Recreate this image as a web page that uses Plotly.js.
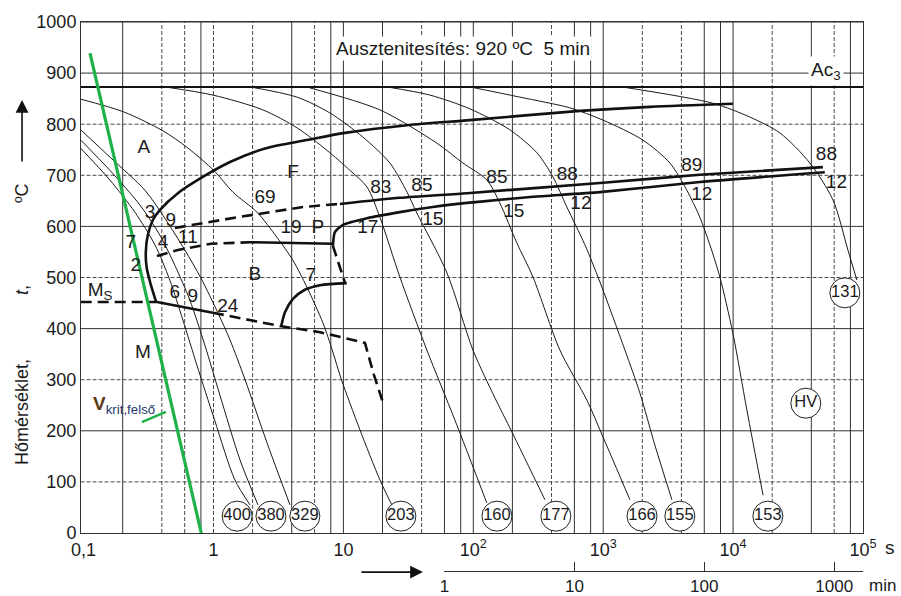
<!DOCTYPE html>
<html><head><meta charset="utf-8">
<script src="https://cdn.plot.ly/plotly-3.0.1.min.js"></script>
<style>html,body{margin:0;padding:0;background:#fff;}#chart{width:901px;height:596px;}</style>
</head><body><div id="chart"></div>
<script>
const FONT = "'Liberation Sans',Arial,sans-serif";

// ---------- grid / reference levels ----------
const gridSolidX = [0.2, 0.8, 4, 8, 10, 20, 60, 80, 100, 200, 600, 800, 1000, 6000, 8000, 10000, 40000, 80000];
const gridDashX  = [0.4, 0.6, 1, 2, 6, 40, 400, 2000, 4000, 20000, 60000];
const gridSolidY = [200, 400, 600, 900, 1000];
const gridDashY  = [100, 300, 500, 700, 800];
const ac3Temp = 873;

// ---------- axis ticks ----------
const xTickVals = [0.1, 1, 10, 100, 1000, 10000, 100000];
const xTickText = ['0,1', '1', '10', '10<sup>2</sup>', '10<sup>3</sup>', '10<sup>4</sup>', '10<sup>5</sup>'];
const yTickVals = [0, 100, 200, 300, 400, 500, 600, 700, 800, 900, 1000];
const minTickVals = [1, 10, 100, 1000];
const minTickText = ['1', '10', '100', '1000'];

// ---------- cooling curves (time s, temperature °C) ----------
const c400_t = [0.095, 0.159, 0.248, 0.354, 0.461, 0.581, 0.744, 1.02, 1.46, 1.91];
const c400_T = [753, 691, 628, 564, 495, 417, 329, 221, 104, 55];
const c380_t = [0.095, 0.159, 0.271, 0.386, 0.504, 0.657, 0.857, 1.12, 1.60, 2.20];
const c380_T = [769, 710, 642, 583, 524, 456, 368, 270, 143, 55];
const c329_t = [0.095, 0.162, 0.296, 0.422, 0.601, 0.80, 1.08, 1.34, 1.75, 2.62, 3.88];
const c329_T = [789, 734, 671, 616, 554, 499, 431, 378, 300, 172, 55];
const c203_t = [0.095, 0.204, 0.408, 0.623, 1.02, 1.41, 2.16, 3.07, 4.08, 5.24, 6.96, 8.30, 9.57, 13.4, 19.1, 23.6];
const c203_T = [849, 824, 787, 755, 708, 667, 628, 579, 534, 481, 411, 354, 303, 202, 104, 55];
const c160_t = [0.422, 0.99, 2.40, 4.39, 7.46, 11.2, 15.2, 19.1, 27.2, 43.9, 72.2, 127];
const c160_T = [873, 857, 828, 793, 749, 710, 677, 618, 501, 358, 221, 59];
const c177_t = [1.91, 4.39, 7.87, 14.1, 22.8, 30.9, 36.8, 62.7, 99.4, 147, 198, 356];
const c177_T = [873, 853, 822, 775, 724, 667, 626, 509, 358, 264, 198, 65];
const c166_t = [5.52, 19.1, 52.4, 83.2, 127, 160, 216, 288, 464, 749, 996, 1607];
const c166_T = [871, 828, 763, 724, 691, 646, 568, 501, 358, 260, 188, 65];
const c155_t = [21.6, 46.3, 94.2, 191, 309, 410, 525, 723, 944, 1470, 1916, 2500, 3380];
const c155_T = [873, 857, 830, 789, 744, 697, 638, 564, 491, 358, 274, 172, 65];
const c153_t = [94.2, 228, 554, 996, 2020, 3260, 4400, 5546, 6622, 7907, 9960, 12760, 17000];
const c153_T = [873, 853, 832, 808, 769, 724, 671, 618, 564, 501, 391, 241, 74];
const c131_t = [1390, 6986, 13460, 22910, 38990, 58650, 76500, 89690];
const c131_T = [873, 841, 814, 783, 724, 652, 554, 495];

// ---------- transformation lines ----------
const fStart_t = [0.362, 0.33, 0.306, 0.301, 0.312, 0.342, 0.386, 0.532, 0.955, 1.34, 2.535, 5.24, 10.3, 30.9, 94.2, 662, 2288, 9960];
const fStart_T = [452, 485, 519, 548, 583, 613, 632, 665, 706, 726, 753, 769, 783, 798, 808, 826, 834, 840];
const pUpDash_t = [0.504, 1.54, 4.88, 9.4];
const pUpDash_T = [597, 618, 638, 644];
const pUp_t = [9.4, 27.2, 89.4, 944, 5546, 49120];
const pUp_T = [644, 656, 665, 685, 701, 716];
const pLow_t = [8.3, 8.6, 9.92, 15.2, 27.2, 48.8, 89.4, 160, 288, 944, 5546, 50800];
const pLow_T = [562, 589, 603, 616, 628, 638, 646, 652, 658, 667, 687, 706];
const bStartDash_t = [0.367, 0.532, 0.955, 1.91];
const bStartDash_T = [542, 554, 566, 569];
const bStart_t = [1.91, 8.3];
const bStart_T = [569, 566];
const pbDash_t = [8.3, 10.3];
const pbDash_T = [562, 489];
const bEnd_t = [3.31, 3.55, 4.09, 5.05, 6.6, 10.6];
const bEnd_T = [403, 432, 458, 476, 485, 489];
const msDashL_t = [0.095, 0.367];
const msDashL_T = [452, 452];
const ms_t = [0.367, 0.99];
const ms_T = [452, 431];
const msDashR_t = [0.99, 3.25, 6.6, 14.65, 17.2, 20.5];
const msDashR_T = [431, 405, 393, 372, 309, 250];
const vkrit_t = [0.112, 0.805];
const vkrit_T = [939, 0];
const vkritTick_t = [0.281, 0.430];
const vkritTick_T = [217, 237];

// ---------- hardness values (circled) ----------
const hvText = ['400', '380', '329', '203', '160', '177', '166', '155', '153', '131', 'HV'];
const hv_t = [1.52, 2.77, 5.05, 27.7, 152, 432, 1990, 3890, 18520, 72540, 36300];
const hv_T = [33, 33, 33, 33, 33, 33, 33, 33, 33, 470, 254];

// ---------- curve labels ----------
const lblText = ['A', 'F', 'P', 'B', 'M', 'M<sub>S</sub>', '69', '19', '7', '83', '85', '85', '88', '89', '88',
                 '17', '15', '15', '12', '12', '12', '3', '9', '7', '4', '11', '2', '6', '9', '24'];
const lbl_t = [0.291, 4.09, 6.37, 2.08, 0.286, 0.134, 2.49, 3.95, 5.62, 19.4, 40.2, 152, 529, 4810, 52300,
               15.4, 48.8, 205, 674, 5746, 62400, 0.324, 0.47, 0.231, 0.408, 0.635, 0.252, 0.504, 0.694, 1.29];
const lbl_T = [753, 704, 597, 505, 352, 474, 656, 597, 503, 675, 679, 695, 701, 718, 740,
               597, 613, 628, 644, 661, 685, 626, 611, 568, 568, 577, 523, 470, 462, 442];

// ---------- build traces ----------
function segs(vals, a, b, vertical) {
  const xs = [], ys = [];
  vals.forEach(v => {
    if (vertical) { xs.push(v, v, null); ys.push(a, b, null); }
    else { xs.push(a, b, null); ys.push(v, v, null); }
  });
  return {x: xs, y: ys};
}
const base = {type: 'scatter', mode: 'lines', hoverinfo: 'skip', showlegend: false};
const traces = [];
const gsx = segs(gridSolidX, 0, 1000, true);
const gdx = segs(gridDashX, 0, 1000, true);
const gsy = segs(gridSolidY, 0.05, 200000, false);
const gdy = segs(gridDashY, 0.05, 200000, false);
traces.push(Object.assign({}, base, {x: gsx.x, y: gsx.y, line: {color: '#333', width: 1}}));
traces.push(Object.assign({}, base, {x: gdx.x, y: gdx.y, line: {color: '#4a4a4a', width: 1, dash: '4px,2px'}}));
traces.push(Object.assign({}, base, {x: gsy.x, y: gsy.y, line: {color: '#333', width: 1}}));
traces.push(Object.assign({}, base, {x: gdy.x, y: gdy.y, line: {color: '#4a4a4a', width: 1, dash: '4px,2px'}}));
traces.push(Object.assign({}, base, {x: [0.05, 200000], y: [ac3Temp, ac3Temp], line: {color: '#111', width: 2}}));

const thin = {color: '#1a1a1a', width: 1};
[[c400_t, c400_T], [c380_t, c380_T], [c329_t, c329_T], [c203_t, c203_T], [c160_t, c160_T], [c177_t, c177_T],
 [c166_t, c166_T], [c155_t, c155_T], [c153_t, c153_T], [c131_t, c131_T]].forEach(c => {
  traces.push(Object.assign({}, base, {x: c[0], y: c[1], line: Object.assign({shape: 'spline', smoothing: 0.8}, thin)}));
});
const thick = {color: '#111', width: 2.6};
const thickDash = {color: '#111', width: 2.6, dash: '11px,6px'};
traces.push(Object.assign({}, base, {x: fStart_t, y: fStart_T, line: Object.assign({shape: 'spline', smoothing: 0.8}, thick)}));
traces.push(Object.assign({}, base, {x: pUpDash_t, y: pUpDash_T, line: thickDash}));
traces.push(Object.assign({}, base, {x: pUp_t, y: pUp_T, line: Object.assign({shape: 'spline', smoothing: 0.6}, thick)}));
traces.push(Object.assign({}, base, {x: pLow_t, y: pLow_T, line: Object.assign({shape: 'spline', smoothing: 0.6}, thick)}));
traces.push(Object.assign({}, base, {x: bStartDash_t, y: bStartDash_T, line: thickDash}));
traces.push(Object.assign({}, base, {x: bStart_t, y: bStart_T, line: thick}));
traces.push(Object.assign({}, base, {x: pbDash_t, y: pbDash_T, line: thickDash}));
traces.push(Object.assign({}, base, {x: bEnd_t, y: bEnd_T, line: Object.assign({shape: 'spline', smoothing: 0.8}, thick)}));
traces.push(Object.assign({}, base, {x: msDashL_t, y: msDashL_T, line: thickDash}));
traces.push(Object.assign({}, base, {x: ms_t, y: ms_T, line: thick}));
traces.push(Object.assign({}, base, {x: msDashR_t, y: msDashR_T, line: thickDash}));
traces.push(Object.assign({}, base, {x: vkrit_t, y: vkrit_T, line: {color: '#1fb14a', width: 3.2}}));
traces.push(Object.assign({}, base, {x: vkritTick_t, y: vkritTick_T, line: {color: '#1fb14a', width: 2.6}}));

traces.push({type: 'scatter', mode: 'markers+text', x: hv_t, y: hv_T, text: hvText, textposition: 'middle center',
  marker: {symbol: 'circle', size: 30, color: '#fff', line: {color: '#222', width: 1}},
  textfont: {family: FONT, size: 16.5, color: '#1a1a1a'}, hoverinfo: 'skip', showlegend: false, cliponaxis: false});
traces.push({type: 'scatter', mode: 'text', x: lbl_t, y: lbl_T, text: lblText, textposition: 'middle center',
  textfont: {family: FONT, size: 19, color: '#1a1a1a'}, hoverinfo: 'skip', showlegend: false, cliponaxis: false});
// carrier trace for the minute axis
traces.push({type: 'scatter', mode: 'lines', x: [1, 1000], y: [-100, -100], xaxis: 'x2', yaxis: 'y',
  hoverinfo: 'skip', showlegend: false, line: {width: 0}});

const tf = {family: FONT, size: 18, color: '#1a1a1a'};
const tfMin = {family: FONT, size: 17, color: '#1a1a1a'};
const layout = {
  width: 901, height: 596,
  margin: {l: 81, r: 38, t: 22, b: 25},
  paper_bgcolor: '#fff', plot_bgcolor: 'rgba(0,0,0,0)',
  showlegend: false,
  xaxis: {type: 'log', range: [-1.02, 5.0], domain: [0, 1], anchor: 'y', showgrid: false, zeroline: false,
    showline: true, mirror: true, linecolor: '#333', linewidth: 1, ticks: '', tickmode: 'array',
    tickvals: xTickVals, ticktext: xTickText, tickfont: tf, fixedrange: true},
  yaxis: {range: [0, 1000], domain: [0.0692, 1], anchor: 'x', showgrid: false, zeroline: false,
    showline: true, mirror: true, linecolor: '#333', linewidth: 1, ticks: '', tickmode: 'array',
    tickvals: yTickVals, tickfont: tf, fixedrange: true},
  xaxis2: {type: 'log', range: [0, Math.log10(100000 / 60)], domain: [0.4648, 1], anchor: 'free', position: 0,
    showgrid: false, zeroline: false, showline: true, linecolor: '#333', linewidth: 1, ticks: 'inside',
    ticklen: 9, tickcolor: '#333', tickmode: 'array', tickvals: minTickVals, ticktext: minTickText,
    tickfont: tfMin, fixedrange: true},
  annotations: [
    {xref: 'paper', yref: 'paper', x: 0.489, y: 0.9526, text: 'Ausztenitesítés: 920 ºC\u00a0 5 min', showarrow: false,
     font: {family: FONT, size: 19, color: '#1a1a1a'}, bgcolor: '#fff', xanchor: 'center', yanchor: 'middle'},
    {xref: 'paper', yref: 'paper', x: 0.9527, y: 0.9107, text: 'Ac<sub>3</sub>', showarrow: false,
     font: {family: FONT, size: 19, color: '#1a1a1a'}, bgcolor: '#fff', xanchor: 'center', yanchor: 'middle', borderpad: 2},
    {xref: 'paper', yref: 'paper', x: -0.0754, y: 0.2896, text: 'Hőmérséklet,', textangle: -90, showarrow: false,
     font: {family: FONT, size: 18, color: '#1a1a1a'}, xanchor: 'center', yanchor: 'middle'},
    {xref: 'paper', yref: 'paper', x: -0.0754, y: 0.5118, text: '<i>t</i>,', textangle: -90, showarrow: false,
     font: {family: FONT, size: 18, color: '#1a1a1a'}, xanchor: 'center', yanchor: 'middle'},
    {xref: 'paper', yref: 'paper', x: -0.0754, y: 0.6885, text: 'ºC', textangle: -90, showarrow: false,
     font: {family: FONT, size: 18, color: '#1a1a1a'}, xanchor: 'center', yanchor: 'middle'},
    {xref: 'paper', yref: 'paper', x: -0.0754, y: 0.858, text: '', showarrow: true, ax: 0, ay: 63,
     arrowhead: 2, arrowsize: 1.6, arrowwidth: 1.6, arrowcolor: '#111'},
    {xref: 'paper', yref: 'paper', x: 0.4373, y: -0.002, text: '', showarrow: true, ax: -63, ay: 0,
     arrowhead: 2, arrowsize: 1.6, arrowwidth: 1.6, arrowcolor: '#111'},
    {xref: 'paper', yref: 'paper', x: 1.0345, y: 0.0419, text: 's', showarrow: false,
     font: {family: FONT, size: 19, color: '#1a1a1a'}, xanchor: 'center', yanchor: 'middle'},
    {xref: 'paper', yref: 'paper', x: 1.0243, y: -0.0273, text: 'min', showarrow: false,
     font: {family: FONT, size: 17, color: '#1a1a1a'}, xanchor: 'center', yanchor: 'middle'},
    {xref: 'paper', yref: 'paper', x: 0.055, y: 0.3024,
     text: '<b><span style="color:#5a3818">V</span></b><sub><span style="color:#1f3a6e">krit,felső</span></sub>',
     showarrow: false, font: {family: FONT, size: 19, color: '#1f3a6e'}, xanchor: 'center', yanchor: 'middle'}
  ]
};
Plotly.newPlot('chart', traces, layout, {staticPlot: true, displayModeBar: false});
</script></body></html>
